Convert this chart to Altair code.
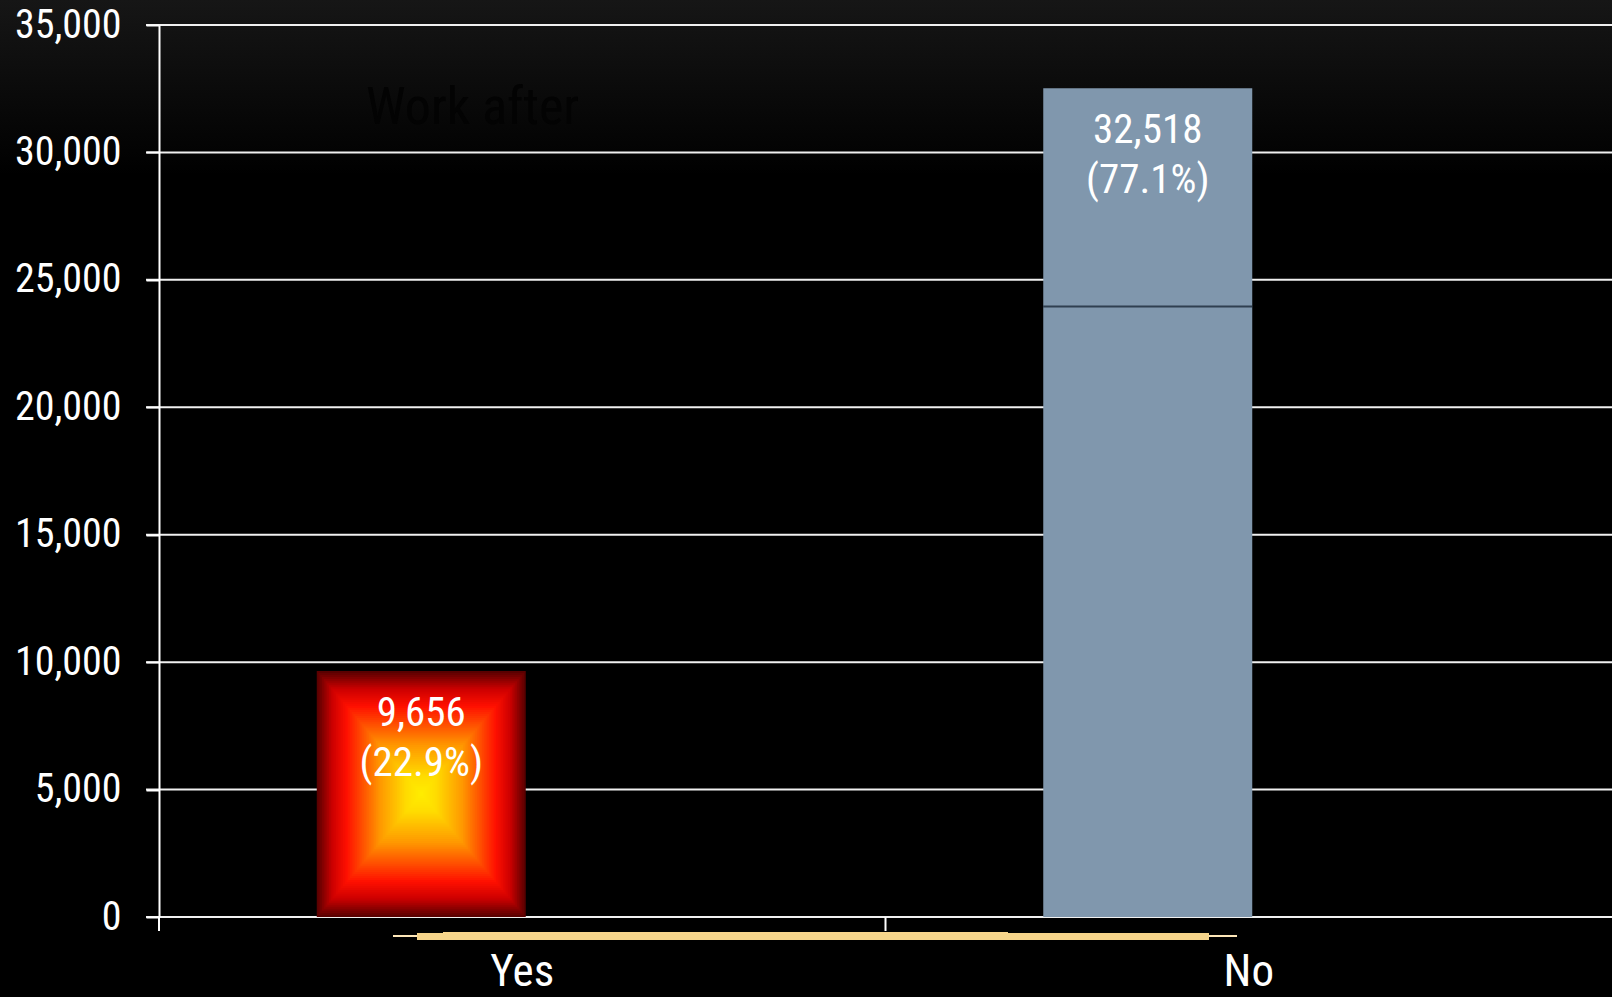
import altair as alt
import pandas as pd

# ---- data ----
categories = ["Yes", "No"]
counts = [9656, 32518]
y_ticks = [0, 5000, 10000, 15000, 20000, 25000, 30000, 35000]
seam_values = [23950]
note_text = ["Work after"]

total = sum(counts)
labels = [f"{c:,}\n({c / total * 100:.1f}%)" for c in counts]
df = pd.DataFrame({"cat": categories, "count": counts, "label": labels})
grid_df = pd.DataFrame({"v": y_ticks})
seam_df = pd.DataFrame({"cat": ["No"], "v": seam_values})
one = pd.DataFrame({"a": [0]})

# ---- layout / style ----
W, H = 1453, 892
FONT = "Roboto Condensed, Noto Sans Condensed, Liberation Sans Narrow, DejaVu Sans Condensed, sans-serif"
BAR_W = 209
OFF = -101

yscale = alt.Scale(domain=[0, 35000], nice=False, zero=True)
xscale = alt.Scale(paddingInner=0, paddingOuter=0)

x_axis = alt.Axis(
    title=None, domain=False, grid=False, ticks=False,
    labelColor="white", labelFontSize=45, labelFont=FONT, labelPadding=32,
    labelAngle=0, zindex=1,
)
y_axis = alt.Axis(
    title=None, values=y_ticks, format=",d", grid=False,
    domain=True, domainColor="white", domainWidth=2,
    ticks=True, tickSize=13, tickColor="white", tickWidth=2,
    labelColor="white", labelFontSize=40, labelFont=FONT, labelPadding=25,
    zindex=1,
)


def X(**kw):
    return alt.X("cat:N", sort=categories, scale=xscale, axis=x_axis, **kw)


def Y(field, **kw):
    return alt.Y(field, scale=yscale, axis=y_axis, **kw)


bg_grad = {
    "gradient": "linear", "x1": 0, "y1": 0, "x2": 0, "y2": 1,
    "stops": [{"offset": 0, "color": "#161616"}, {"offset": 1, "color": "#000000"}],
}

# box-gradient colour ramp for the "Yes" bar (0 = centre, 1 = edge)
ramp = [
    (0.0, (255, 238, 0)),
    (0.15, (255, 220, 0)),
    (0.4, (255, 153, 0)),
    (0.72, (255, 16, 0)),
    (0.86, (204, 0, 0)),
    (1.0, (90, 0, 0)),
]


def ramp_color(t):
    for (t0, c0), (t1, c1) in zip(ramp[:-1], ramp[1:]):
        if t <= t1:
            f = (t - t0) / (t1 - t0) if t1 > t0 else 0
            c = [round(a + (b - a) * f) for a, b in zip(c0, c1)]
            return "#%02x%02x%02x" % tuple(c)
    return "#%02x%02x%02x" % ramp[-1][1]


bg = alt.Chart(one).mark_rect(color=bg_grad).encode(
    x=alt.value(-159), x2=alt.value(W), y=alt.value(-25), y2=alt.value(150)
)

note = alt.Chart(pd.DataFrame({"t": note_text})).mark_text(
    align="left", baseline="alphabetic", fontSize=52, font=FONT, color="#030303"
).encode(text="t:N", x=alt.value(207), y=alt.value(99))

grid = alt.Chart(grid_df).mark_rule(color="#f0f0f0", strokeWidth=2).encode(
    y=Y("v:Q"), x=alt.value(-13), x2=alt.value(W)
)

base = alt.Chart(df)

# x-axis ticks at the start of each category band
xticks = base.mark_rule(color="white", strokeWidth=2).encode(
    x=X(bandPosition=0), y=alt.value(H), y2=alt.value(H + 14)
)

# concentric rectangles give the box-shaped gradient of the "Yes" bar
N = 60
yes_layers = []
for i in range(N, 0, -1):
    t = i / N
    yes_layers.append(
        base.transform_filter(alt.datum.cat == "Yes")
        .transform_calculate(
            lo=f"datum.count * {(1 - t) / 2}", hi=f"datum.count * {(1 + t) / 2}"
        )
        .mark_bar(width=BAR_W * t, xOffset=OFF, color=ramp_color(t))
        .encode(x=X(), y=Y("lo:Q"), y2="hi:Q")
    )

no_bar = base.transform_filter(alt.datum.cat == "No").mark_bar(
    width=BAR_W, xOffset=OFF, color="#8097ad"
).encode(x=X(), y=Y("count:Q"))

seam = alt.Chart(seam_df).mark_tick(
    orient="horizontal", size=BAR_W, thickness=2, xOffset=OFF, color="#0d1a28"
).encode(x=X(), y=Y("v:Q"))

vlabels = base.mark_text(
    baseline="top", align="center", dy=23, xOffset=OFF, lineHeight=50,
    fontSize=41, font=FONT, color="white", lineBreak="\n"
).encode(x=X(), y=Y("count:Q"), text="label:N")

# decorative pale-yellow streak under the axis
streak1 = alt.Chart(one).mark_rect(color="#fde6b8").encode(
    x=alt.value(234), x2=alt.value(1078), y=alt.value(910), y2=alt.value(912)
)
streak2 = alt.Chart(one).mark_rect(color="#f5d48a").encode(
    x=alt.value(258), x2=alt.value(1050), y=alt.value(908), y2=alt.value(915)
)
streak3 = alt.Chart(one).mark_rect(color="#f8d58c").encode(
    x=alt.value(284), x2=alt.value(849), y=alt.value(907), y2=alt.value(909)
)

chart = alt.layer(
    bg, note, grid, xticks, *yes_layers, no_bar, seam, vlabels,
    streak1, streak2, streak3
).properties(
    width=W, height=H,
    background="#000000",
    padding={"left": 159, "top": 25, "right": 0, "bottom": 80},
    autosize=alt.AutoSizeParams(type="none"),
).configure_view(stroke=None)

chart.save("out.html", embed_options={"renderer": "svg", "actions": False})
